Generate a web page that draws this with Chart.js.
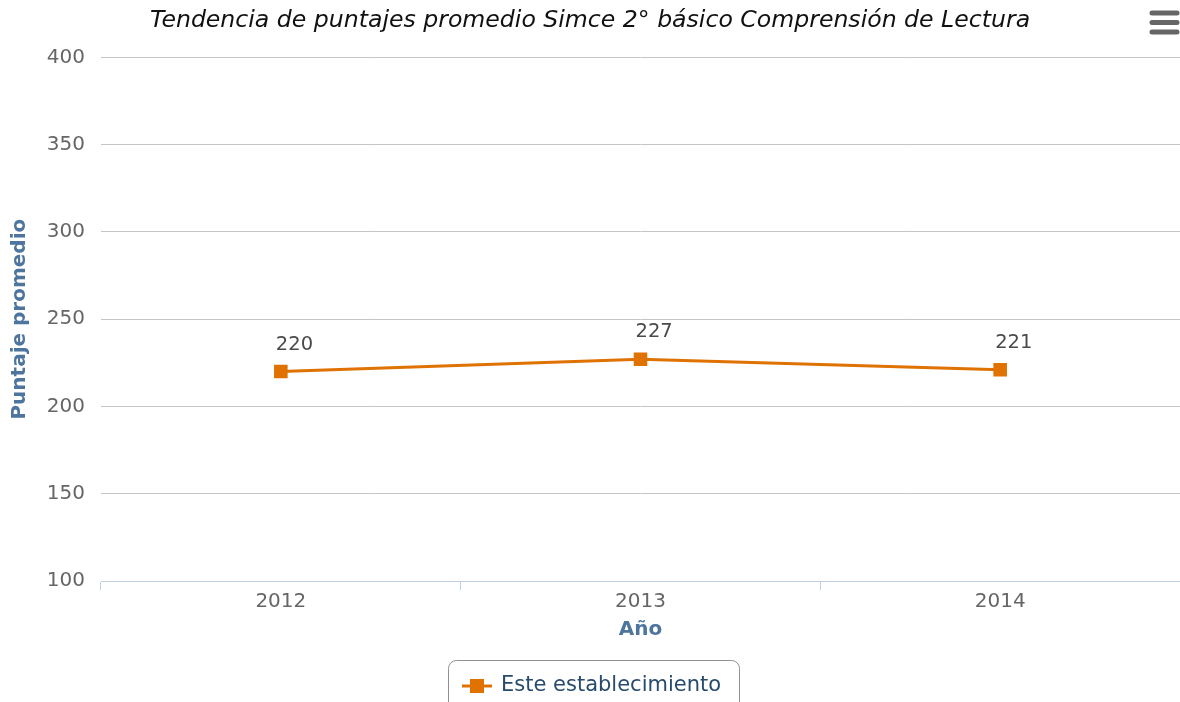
<!DOCTYPE html>
<html>
<head>
<meta charset="utf-8">
<script src="https://cdn.jsdelivr.net/npm/chart.js@4"></script>
<style>
  html, body { margin: 0; padding: 0; background: #fff; }
  #wrap { width: 1180px; height: 702px; position: relative; }
</style>
</head>
<body>
<div id="wrap"><canvas id="chart"></canvas></div>
<script>
// simce chart data

const years = ['2012', '2013', '2014'];
const puntajes = [220, 227, 221];
const yTicks = [100, 150, 200, 250, 300, 350, 400];

const chartTitle = 'Tendencia de puntajes promedio Simce 2° básico Comprensión de Lectura';
const serieName = 'Este establecimiento';

const orange = '#df7200';
const fontFam = '"DejaVu Sans", Verdana, sans-serif';

// labels over each point
const pointLabels = {
  id: 'pointLabels',
  afterDatasetsDraw(chart) {
    const ctx = chart.ctx;
    const meta = chart.getDatasetMeta(0);
    ctx.save();
    ctx.font = '19.5px ' + fontFam;
    ctx.fillStyle = '#4a4a4a';
    ctx.textAlign = 'left';
    ctx.textBaseline = 'middle';
    meta.data.forEach((pt, i) => {
      ctx.fillText(String(puntajes[i]), pt.x - 5, pt.y - 27);
    });
    ctx.restore();
  }
};

// legend box + menu button (highcharts look)
const extras = {
  id: 'extras',
  afterDraw(chart) {
    const ctx = chart.ctx;
    ctx.save();

    // legend
    ctx.strokeStyle = '#909090';
    ctx.lineWidth = 1;
    ctx.beginPath();
    ctx.roundRect(448.5, 660.5, 291, 60, 8);
    ctx.stroke();

    ctx.strokeStyle = orange;
    ctx.lineWidth = 3;
    ctx.beginPath();
    ctx.moveTo(462, 686);
    ctx.lineTo(492, 686);
    ctx.stroke();
    ctx.fillStyle = orange;
    ctx.fillRect(470, 679, 14, 14);

    ctx.font = '21px ' + fontFam;
    ctx.fillStyle = '#274b6d';
    ctx.textBaseline = 'middle';
    ctx.fillText(serieName, 501, 686);

    // menu icon
    ctx.strokeStyle = '#666';
    ctx.lineWidth = 5;
    ctx.lineCap = 'round';
    [13, 22.5, 32].forEach(y => {
      ctx.beginPath();
      ctx.moveTo(1152, y);
      ctx.lineTo(1177, y);
      ctx.stroke();
    });
    ctx.restore();
  }
};

const chart = new Chart(document.getElementById('chart'), {
  type: 'line',
  data: {
    labels: years,
    datasets: [{
      label: serieName,
      data: puntajes,
      borderColor: orange,
      backgroundColor: orange,
      borderWidth: 3,
      tension: 0,
      pointStyle: 'rect',
      pointRadius: 9.6,
      pointHoverRadius: 9.6,
      pointBorderWidth: 0
    }]
  },
  options: {
    responsive: true,
    maintainAspectRatio: false,
    animation: false,
    layout: { autoPadding: false, padding: { left: 0, right: 0, top: 0, bottom: 60 } },
    plugins: {
      legend: { display: false },
      tooltip: { enabled: false },
      title: {
        display: true,
        text: chartTitle,
        color: '#111',
        font: { family: fontFam, size: 23.6, style: 'italic', weight: 'normal' },
        padding: { top: 7, bottom: 22 }
      }
    },
    scales: {
      x: {
        offset: true,
        grid: {
          offset: true,
          drawOnChartArea: false,
          drawTicks: true,
          tickLength: 9,
          tickColor: '#c0d0e0'
        },
        border: { display: true, color: '#c0d0e0', width: 1 },
        ticks: {
          color: '#666',
          padding: 0,
          font: { family: fontFam, size: 20 }
        },
        title: {
          display: true,
          text: 'Año',
          color: '#4d759e',
          font: { family: fontFam, size: 20, weight: 'bold' },
          padding: { top: 4, bottom: 0 }
        }
      },
      y: {
        min: 100,
        max: 400,
        afterBuildTicks(scale) {
          scale.ticks = yTicks.map(v => ({ value: v }));
        },
        afterFit(scale) {
          scale.width = 101;
        },
        grid: { color: '#c4c4c4', drawTicks: false, lineWidth: 1 },
        border: { display: false },
        ticks: {
          color: '#666',
          padding: 16,
          font: { family: fontFam, size: 20 }
        },
        title: {
          display: true,
          text: 'Puntaje promedio',
          color: '#4d759e',
          font: { family: fontFam, size: 20, weight: 'bold' },
          padding: { top: 8, bottom: 0 }
        }
      }
    }
  },
  plugins: [pointLabels, extras]
});
</script>
</body>
</html>
